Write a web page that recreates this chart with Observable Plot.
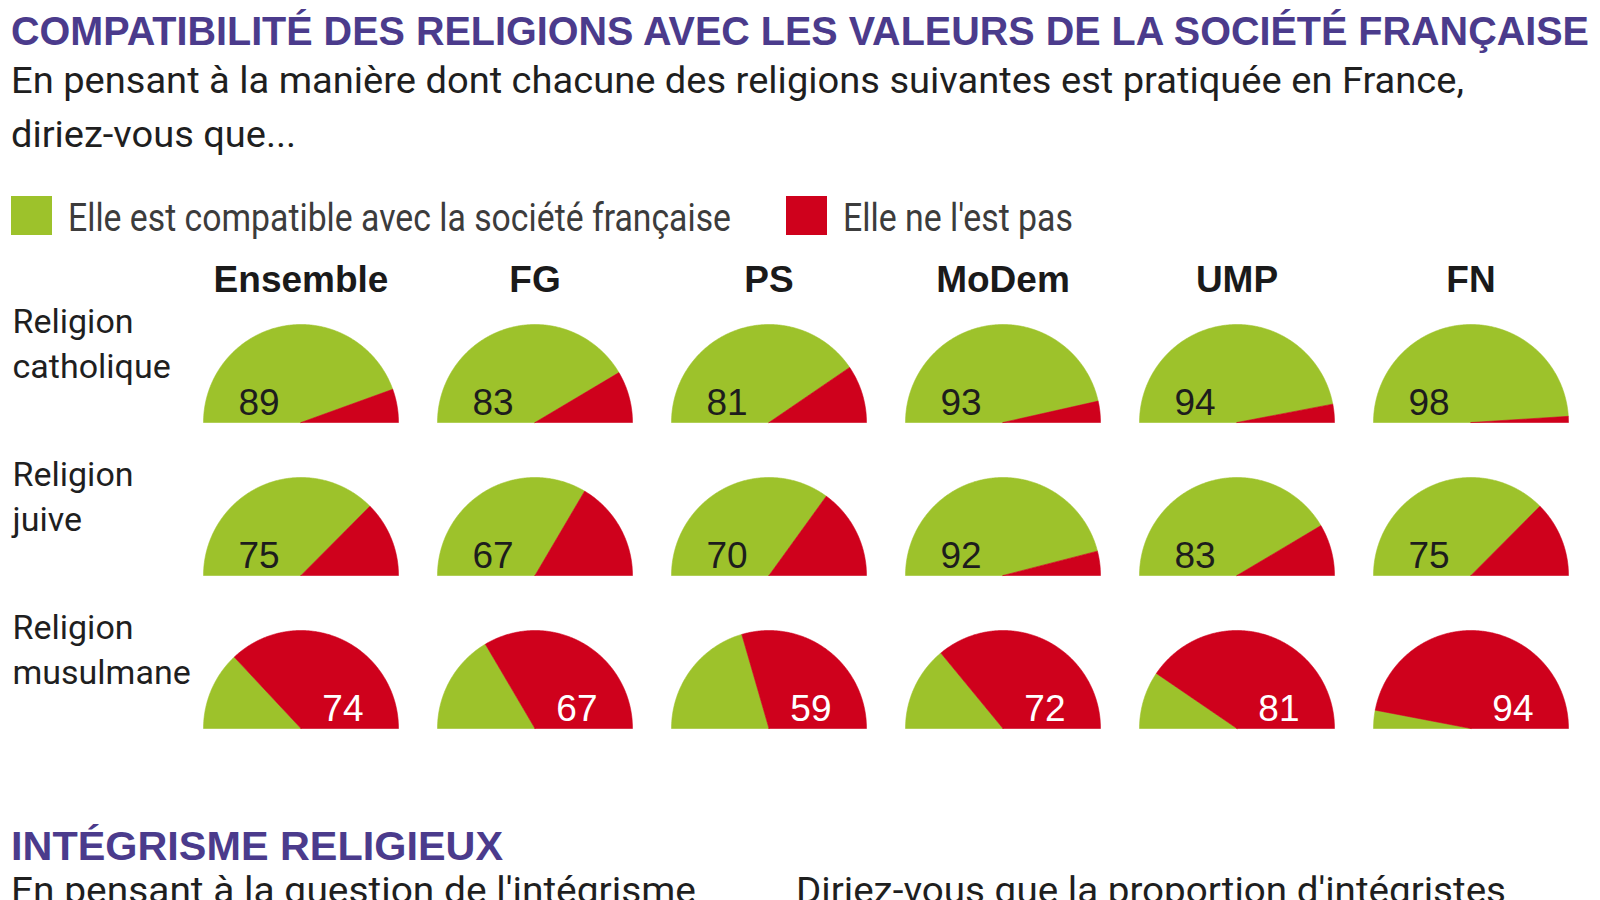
<!DOCTYPE html>
<html><head><meta charset="utf-8">
<script src="https://cdn.jsdelivr.net/npm/d3@7"></script>
<script src="https://cdn.jsdelivr.net/npm/@observablehq/plot@0.6"></script>
<style>
html,body{margin:0;padding:0;background:#fff;width:1600px;height:900px;overflow:hidden;}
.abs{position:absolute;left:0;}
</style></head><body>
<svg id="head" class="abs" style="top:0" width="1600" height="250"></svg>
<div id="chart" class="abs" style="top:250px"></div>
<svg id="foot" class="abs" style="top:745px" width="1600" height="155"></svg>
<script>
// ---- data ----
const parties = ["Ensemble", "FG", "PS", "MoDem", "UMP", "FN"];
const religions = ["Religion catholique", "Religion juive", "Religion musulmane"];
const compatCatholique = [89, 83, 81, 93, 94, 98];
const nonCatholique    = [11, 17, 19, 7, 6, 2];
const compatJuive      = [75, 67, 70, 92, 83, 75];
const nonJuive         = [25, 33, 30, 8, 17, 25];
const compatMusulmane  = [26, 33, 41, 28, 19, 6];
const nonMusulmane     = [74, 67, 59, 72, 81, 94];
const labelledSeries   = ["compat", "compat", "non"]; // which share is printed, per religion
const seriesKeys   = ["compat", "non"];
const seriesLabels = ["Elle est compatible avec la société française", "Elle ne l'est pas"];
const seriesColors = ["#9dc22b", "#cf011c"];
const titleText = "COMPATIBILITÉ DES RELIGIONS AVEC LES VALEURS DE LA SOCIÉTÉ FRANÇAISE";
const subtitleLines = ["En pensant à la manière dont chacune des religions suivantes est pratiquée en France,", "diriez-vous que..."];
const nextTitle = "INTÉGRISME RELIGIEUX";
const nextTexts = ["En pensant à la question de l'intégrisme", "Diriez-vous que la proportion d'intégristes"];

// ---- table ----
const compatRows = [compatCatholique, compatJuive, compatMusulmane];
const nonRows = [nonCatholique, nonJuive, nonMusulmane];
const table = [];
religions.forEach((r, i) => parties.forEach((p, j) => {
  table.push({religion: r, party: p, compat: compatRows[i][j], non: nonRows[i][j], shown: labelledSeries[i]});
}));

// half-pie outlines (geometry in radius units, positioned by Plot's x/y scales)
const wedges = [];
for (const d of table) {
  const total = d.compat + d.non;
  const split = Math.PI * (1 - d.compat / total);
  const parts = [{series: "compat", a0: Math.PI, a1: split}, {series: "non", a0: split, a1: 0}];
  for (const s of parts) {
    const id = d.religion + "|" + d.party + "|" + s.series;
    const base = {id, religion: d.religion, party: d.party, series: s.series};
    const n = Math.max(2, Math.ceil(Math.abs(s.a0 - s.a1) / (Math.PI / 360)));
    wedges.push({...base, x: 0, y: 0});
    for (let k = 0; k <= n; k++) {
      const a = s.a0 + (s.a1 - s.a0) * k / n;
      wedges.push({...base, x: Math.cos(a), y: Math.sin(a)});
    }
    wedges.push({...base, x: 0, y: 0});
  }
}

const chart = Plot.plot({
  width: 1600, height: 495,
  marginTop: 73.4, marginBottom: 17.4, marginLeft: 201, marginRight: 29.5,
  facet: {marginTop: 0, marginRight: 0, marginBottom: 0, marginLeft: 0},
  fx: {domain: parties, paddingInner: 0.165, paddingOuter: 0},
  fy: {domain: religions, paddingInner: 0.3595, paddingOuter: 0, axis: null},
  x: {domain: [-1, 1], axis: null},
  y: {domain: [0, 1], axis: null},
  color: {domain: seriesKeys, range: seriesColors},
  style: {fontFamily: "'Liberation Sans', Arial, sans-serif", color: "#1a1a1a", background: "transparent", overflow: "visible"},
  marks: [
    Plot.line(wedges, {fx: "party", fy: "religion", x: "x", y: "y", z: "id", fill: "series", stroke: "series", strokeWidth: 0.6, curve: "linear"}),
    Plot.text(table, {
      fx: "party", fy: "religion",
      x: d => d.shown === "compat" ? -0.43 : 0.43,
      y: () => 0.075,
      text: d => String(d[d.shown]),
      fill: d => d.shown === "compat" ? "#1d1d1d" : "#ffffff",
      lineAnchor: "bottom", fontSize: 37, fontFamily: "'Liberation Sans', Arial, sans-serif"
    }),
    Plot.text(religions, {
      fx: () => parties[0], fy: d => d,
      frameAnchor: "top-left", text: d => d.replace(" ", "\n"),
      dx: -191, dy: -24, textAnchor: "start", lineAnchor: "top", lineHeight: 1.33,
      fontSize: 34, fontWeight: 400, fontFamily: "Roboto, sans-serif", fill: "#1f1f1f"
    }),
    Plot.axisFx({anchor: "top", tickSize: 0, tickPadding: 33, label: null, fontSize: 37, fontWeight: "bold", fill: "#1a1a1a"})
  ]
});
document.getElementById("chart").appendChild(chart);

// ---- header / footer text ----
const NS = "http://www.w3.org/2000/svg";
function addText(svg, str, x, y, opts) {
  const t = document.createElementNS(NS, "text");
  t.setAttribute("x", x); t.setAttribute("y", y);
  for (const [k, v] of Object.entries(opts)) t.setAttribute(k, v);
  t.textContent = str;
  svg.appendChild(t);
  return t;
}
function addRect(svg, x, y, w, h, fill) {
  const r = document.createElementNS(NS, "rect");
  r.setAttribute("x", x); r.setAttribute("y", y); r.setAttribute("width", w); r.setAttribute("height", h); r.setAttribute("fill", fill);
  svg.appendChild(r);
}
const head = document.getElementById("head");
const titleStyle = {"font-family": "'Liberation Sans Narrow', 'Liberation Sans', sans-serif", "font-weight": 700, "font-size": 41, fill: "#4b3b8c", lengthAdjust: "spacingAndGlyphs"};
const bodyStyle = {"font-family": "Roboto, sans-serif", "font-size": 36, fill: "#1f1f1f", lengthAdjust: "spacingAndGlyphs"};
const legendStyle = {"font-family": "'Liberation Sans Narrow', 'Roboto', sans-serif", "font-size": 38, fill: "#3c3c3c", lengthAdjust: "spacingAndGlyphs"};
addText(head, titleText, 11, 45, {...titleStyle, textLength: 1578});
addText(head, subtitleLines[0], 11, 93, {...bodyStyle, textLength: 1453});
addText(head, subtitleLines[1], 11, 147, {...bodyStyle, textLength: 285});
addRect(head, 11, 196, 41, 39, seriesColors[0]);
addText(head, seriesLabels[0], 68, 231, {...legendStyle, textLength: 663});
addRect(head, 786, 196, 41, 39, seriesColors[1]);
addText(head, seriesLabels[1], 843, 231, {...legendStyle, textLength: 230});

const foot = document.getElementById("foot");
addText(foot, nextTitle, 11, 115, {...titleStyle, textLength: 492});
addText(foot, nextTexts[0], 11, 158, {...bodyStyle, textLength: 685});
addText(foot, nextTexts[1], 796, 158, {...bodyStyle, textLength: 710});
</script>
</body></html>
